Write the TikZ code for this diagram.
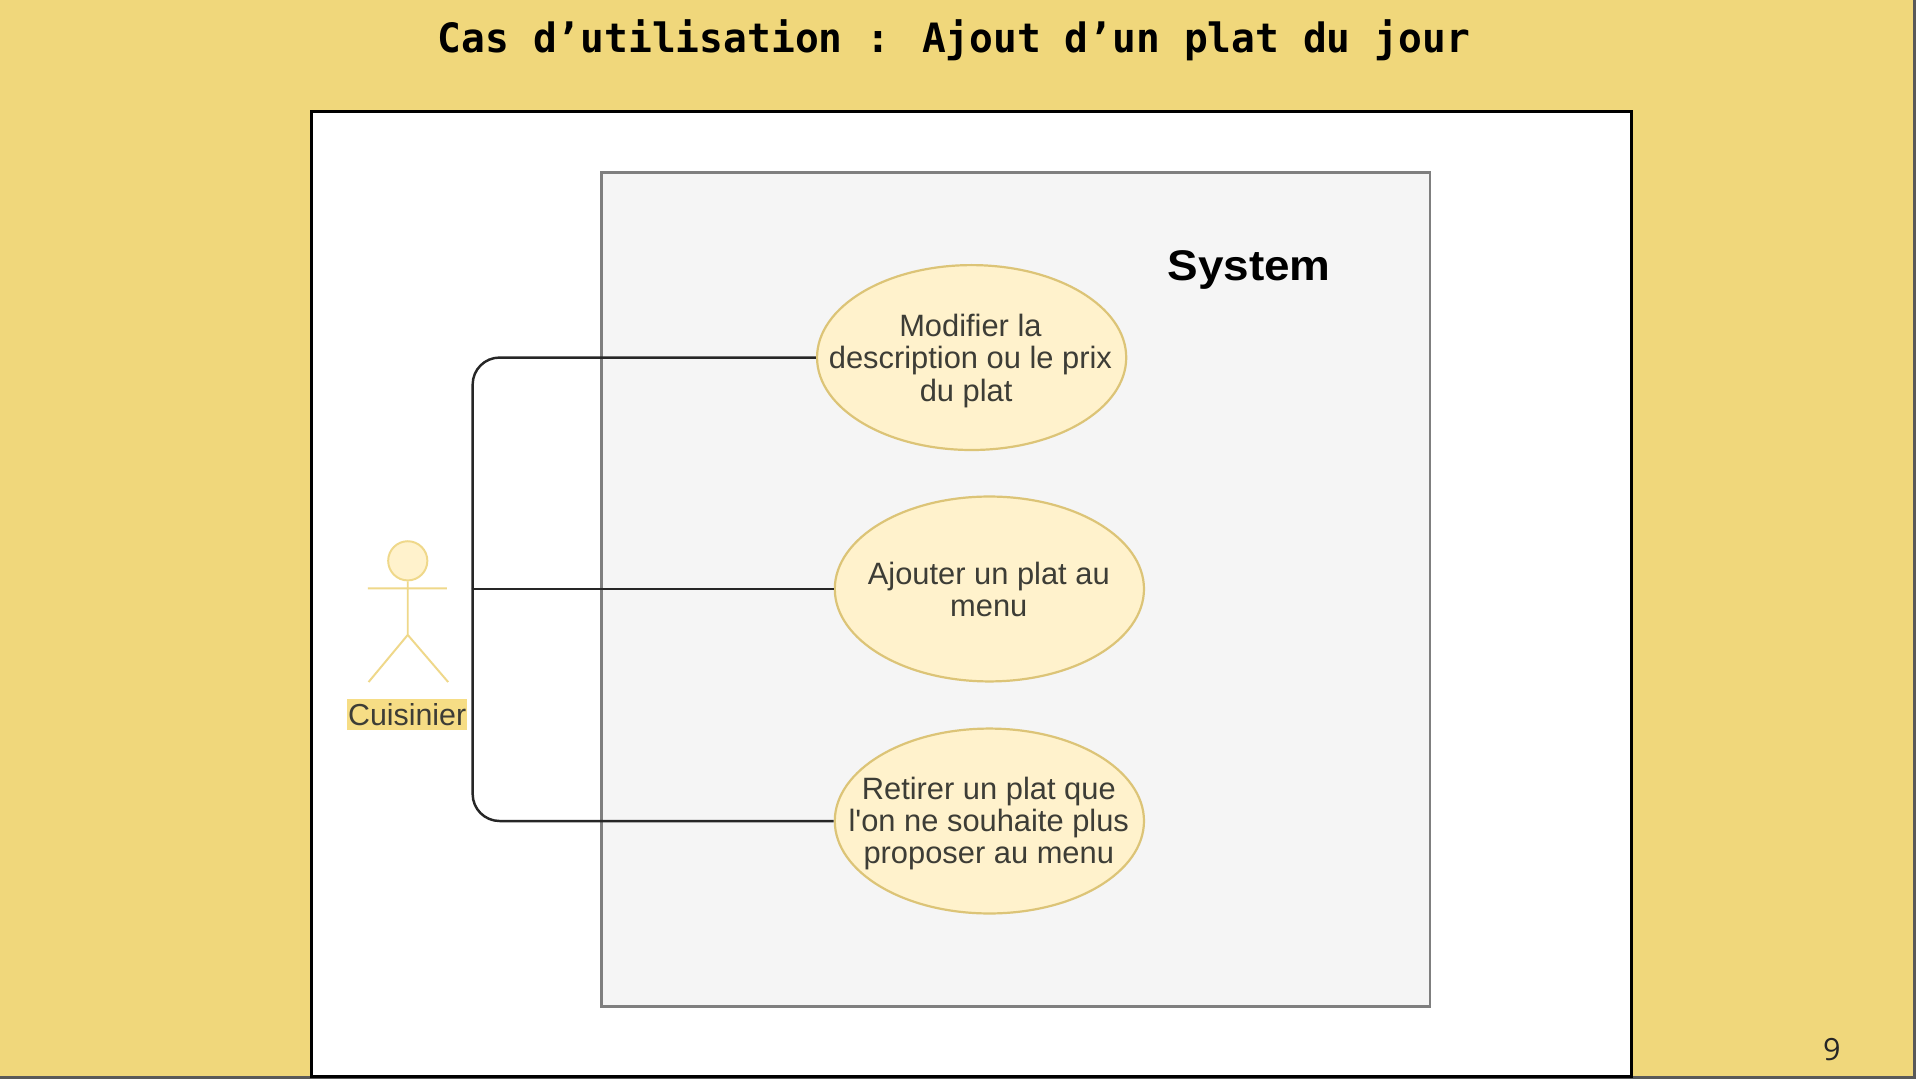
\documentclass[tikz,border=0pt]{standalone}
\usepackage{fontspec}
\newfontfamily\bodyfont{Liberation Sans}[BoldFont={Liberation Sans Bold}]
\newfontfamily\titlefont{DejaVu Sans Mono}[BoldFont={DejaVu Sans Mono Bold}]
\newfontfamily\numfont{Open Sans}
\definecolor{slidebg}{HTML}{F0D77B}
\definecolor{ucfill}{HTML}{FFF2CC}
\definecolor{ucline}{HTML}{DCC477}
\definecolor{actline}{HTML}{EFD88A}
\definecolor{sysfill}{HTML}{F5F5F5}
\definecolor{sysline}{HTML}{7F7F7F}
\definecolor{inktext}{HTML}{3D3D36}
\definecolor{hilite}{HTML}{F6DD85}
\tikzset{
  usecase/.style={ellipse,draw=ucline,fill=ucfill,line width=1.8pt,minimum width=252.5pt,minimum height=151pt,inner sep=0pt},
  uctext/.style={align=center,font=\bodyfont\fontsize{25.2}{26.5}\selectfont,text=inktext,inner sep=0pt},
  assoc/.style={draw=black!85,line width=2pt,rounded corners=22pt},
  actorline/.style={draw=actline,line width=1.6pt}
}
\usetikzlibrary{shapes.geometric}
\begin{document}
\begin{tikzpicture}[x=1pt,y=-1pt]
\useasboundingbox (0,0) rectangle (1568,882);
\fill[white] (0,0) rectangle (1568,882);
\fill[black!65] (0,0) rectangle (1564.6,881.2);
\fill[slidebg] (0,0) rectangle (1562.2,878.8);
\node[font=\titlefont\bfseries\fontsize{33}{34}\selectfont,inner sep=0pt,text=black] (title) at (779,33) {\scalebox{0.979}[1]{Cas d’utilisation : Ajout d’un plat du jour}};
\node[font=\numfont\fontsize{25}{26}\selectfont,inner sep=0pt,text=black!85] (num) at (1496,857) {9};
\draw[black,fill=white,line width=2.6pt] (254.3,91.3) rectangle (1332.7,879.4);
\draw[sysline,fill=sysfill,line width=2pt] (491.3,141) rectangle (1167.7,821.8);
\node[font=\bodyfont\bfseries\fontsize{35}{38}\selectfont,inner sep=0pt,text=black] (sys) at (1020,220.5) {\scalebox{1.07}[1]{System}};
\node[usecase] (uc1) at (793.5,292) {};
\node[usecase] (uc2) at (808,481) {};
\node[usecase] (uc3) at (808,670.5) {};
\node[uctext] (t1) at (792.5,294.5) {Modifier la\\description ou le prix\\du plat\hspace*{7pt}};
\node[uctext] (t2) at (807.5,481.5) {Ajouter un plat au\\menu};
\node[uctext] (t3) at (807.5,672.5) {Retirer un plat que\\l'on ne souhaite plus\\proposer au menu};
% actor
\node[circle,draw=actline,fill=ucfill,line width=1.6pt,minimum size=32pt,inner sep=0pt] (head) at (333,458) {};
\coordinate (hip) at (333,518.5);
\coordinate (armL) at (300.5,480.5);
\coordinate (armR) at (365,480.5);
\coordinate (legL) at (301,557);
\coordinate (legR) at (366,557);
\draw[actorline] (head.south) -- (hip) (armL) -- (armR) (legL) -- (hip) -- (legR);
\node[fill=hilite,text=inktext,font=\bodyfont\fontsize{24.8}{26}\selectfont,inner sep=0pt,minimum width=98.5pt,minimum height=25.5pt] (actor) at (332.5,583.5) {Cuisinier};
% connectors
\coordinate (trunk) at (386,481);
\draw[assoc] (trunk) |- (uc1.west);
\draw[assoc] (trunk) -- (uc2.west);
\draw[assoc] (trunk) |- (uc3.west);
\end{tikzpicture}
\end{document}
